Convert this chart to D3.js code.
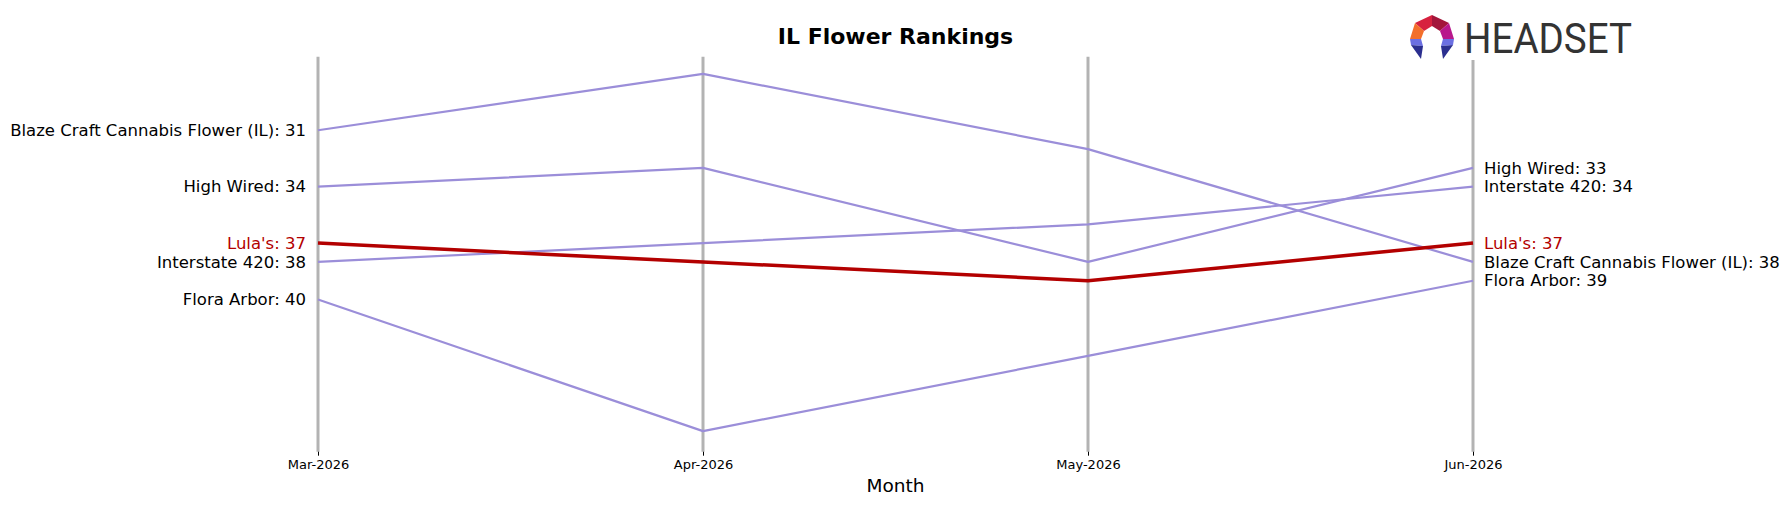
<!DOCTYPE html>
<html lang="en">
<head>
<meta charset="utf-8">
<title>IL Flower Rankings</title>
<script src="https://cdn.jsdelivr.net/npm/d3@7"></script>
<style>
  body { margin: 0; background: #fff; }
  svg { display: block; font-family: "DejaVu Sans", sans-serif; }
</style>
</head>
<body>
<script>
// data
var months = ["Mar-2026", "Apr-2026", "May-2026", "Jun-2026"];
var brands = ["Blaze Craft Cannabis Flower (IL)", "High Wired", "Interstate 420", "Flora Arbor", "Lula's"];
var ranks = [
  [31, 28, 32, 38],
  [34, 33, 38, 33],
  [38, 37, 36, 34],
  [40, 47, 43, 39],
  [37, 38, 39, 37]
];
var highlight = "Lula's";

var w = 1791, h = 507;

var svg = d3.select("body").append("svg")
  .attr("width", w)
  .attr("height", h);

var x = d3.scalePoint().domain(months).range([318, 1473]);
var y = d3.scaleLinear().domain([27.05, 47.95]).range([56, 449]);

var axisTop = 56.7, axisBottom = 451.7;

// vertical month guides
svg.selectAll("line.guide")
  .data(months)
  .enter().append("line")
  .attr("class", "guide")
  .attr("x1", d => x(d)).attr("x2", d => x(d))
  .attr("y1", axisTop).attr("y2", axisBottom)
  .attr("stroke", "#b3b3b3")
  .attr("stroke-width", 3);

// x axis (ticks + labels only)
var xAxis = d3.axisBottom(x).tickSize(4).tickPadding(4);
var gx = svg.append("g")
  .attr("transform", "translate(0," + axisBottom + ")")
  .call(xAxis);
gx.select(".domain").remove();
gx.selectAll(".tick line").attr("stroke", "#000").attr("stroke-width", 1);
gx.selectAll(".tick text")
  .attr("font-family", "DejaVu Sans")
  .attr("font-size", 13)
  .attr("fill", "#000");

var line = d3.line()
  .x((d, i) => x(months[i]))
  .y(d => y(d));

// draw others first, highlight last
var order = d3.range(brands.length).sort((a, b) =>
  (brands[a] === highlight) - (brands[b] === highlight));

svg.selectAll("path.series")
  .data(order)
  .enter().append("path")
  .attr("class", "series")
  .attr("d", i => line(ranks[i]))
  .attr("fill", "none")
  .attr("stroke", i => brands[i] === highlight ? "#b30000" : "#9b8ed9")
  .attr("stroke-width", i => brands[i] === highlight ? 3.5 : 2.2)
  .attr("stroke-linejoin", "round");

// left labels
svg.selectAll("text.left")
  .data(d3.range(brands.length))
  .enter().append("text")
  .attr("class", "left")
  .attr("x", x(months[0]) - 12)
  .attr("y", i => y(ranks[i][0]))
  .attr("dy", "0.35em")
  .attr("text-anchor", "end")
  .attr("font-size", 16.5)
  .attr("fill", i => brands[i] === highlight ? "#b30000" : "#000")
  .text(i => brands[i] + ": " + ranks[i][0]);

// right labels
var last = months.length - 1;
svg.selectAll("text.right")
  .data(d3.range(brands.length))
  .enter().append("text")
  .attr("class", "right")
  .attr("x", x(months[last]) + 11)
  .attr("y", i => y(ranks[i][last]))
  .attr("dy", "0.35em")
  .attr("text-anchor", "start")
  .attr("font-size", 16.5)
  .attr("fill", i => brands[i] === highlight ? "#b30000" : "#000")
  .text(i => brands[i] + ": " + ranks[i][last]);

// title
svg.append("text")
  .attr("x", 895.5).attr("y", 44)
  .attr("text-anchor", "middle")
  .attr("font-size", 22)
  .attr("font-weight", "bold")
  .text("IL Flower Rankings");

// x axis title
svg.append("text")
  .attr("x", 895.5).attr("y", 492)
  .attr("text-anchor", "middle")
  .attr("font-size", 18.5)
  .text("Month");

// logo
var logo = svg.append("g").attr("transform", "translate(1400,0)");
logo.append("rect").attr("x", 0).attr("y", 0).attr("width", 240).attr("height", 60).attr("fill", "#fff");
var icon = logo.append("g").attr("transform", "translate(10,15)");
var pieces = [
  { p: [[22,0],[5,8],[14,16],[22,11]], c: "#d7213f" },
  { p: [[22,0],[39,8],[30,16],[22,11]], c: "#a3163b" },
  { p: [[5,8],[0,24],[11,24],[14,16]], c: "#f36f2b" },
  { p: [[39,8],[44,24],[33,24],[30,16]], c: "#b8188c" },
  { p: [[0,24],[11,24],[13,31],[1,30]], c: "#6b6fe2" },
  { p: [[44,24],[33,24],[31,31],[43,30]], c: "#6b6fe2" },
  { p: [[1,30],[13,31],[11,44]], c: "#2b2f8f" },
  { p: [[43,30],[31,31],[33,44]], c: "#2b2f8f" }
];
icon.selectAll("polygon")
  .data(pieces)
  .enter().append("polygon")
  .attr("points", d => d.p.map(q => q.join(",")).join(" "))
  .attr("fill", d => d.c);
logo.append("text")
  .attr("x", 64).attr("y", 53)
  .attr("font-family", "Roboto, sans-serif")
  .attr("font-size", 43)
  .attr("fill", "#333")
  .attr("textLength", 168)
  .attr("lengthAdjust", "spacingAndGlyphs")
  .text("HEADSET");
</script>
</body>
</html>
